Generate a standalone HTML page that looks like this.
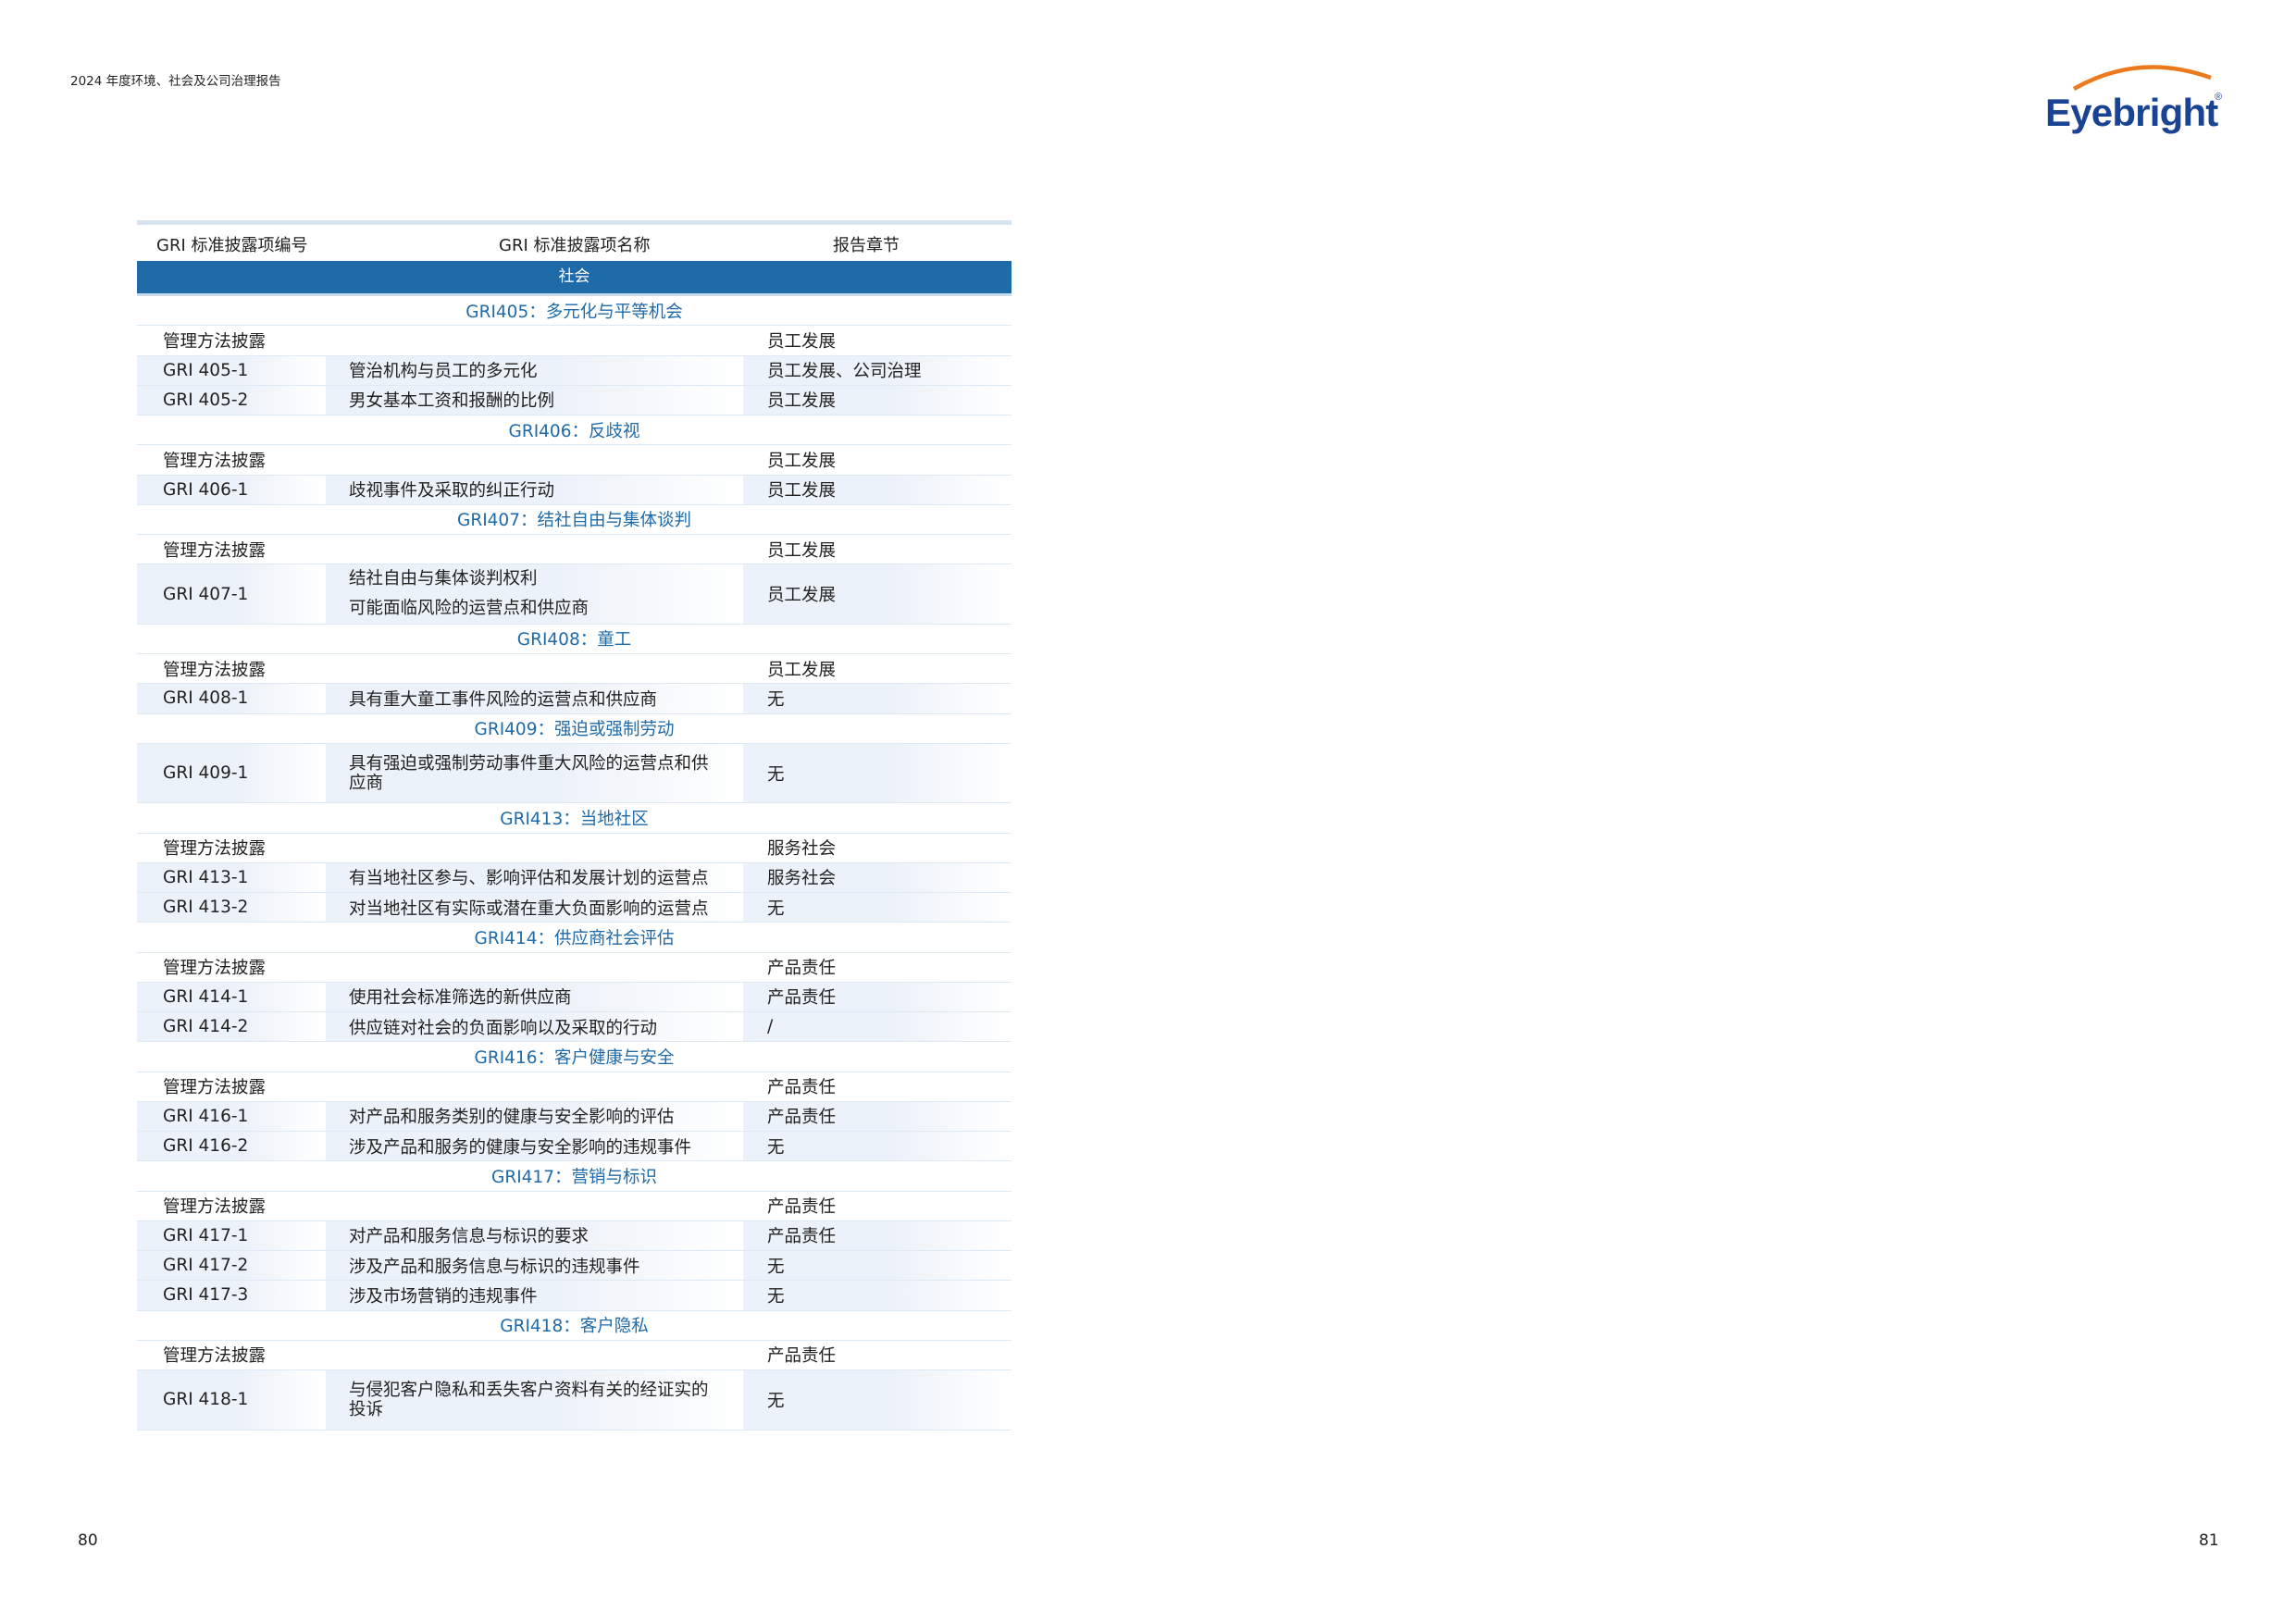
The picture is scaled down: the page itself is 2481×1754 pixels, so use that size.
<!DOCTYPE html>
<html><head><meta charset="utf-8">
<style>
html,body{margin:0;padding:0;background:#fff;}
body{width:2481px;height:1754px;position:relative;overflow:hidden;font-family:"DejaVu Sans","Noto Sans CJK SC",sans-serif;color:#222;}
.hdr{position:absolute;left:76px;top:76px;font-size:13.5px;color:#222;}
.pn{position:absolute;top:1655px;font-size:17px;color:#222;}
.tbl{position:absolute;left:148px;top:238px;width:945px;}
.topline{height:5px;background:#d8e5f1;}
.head{height:39px;position:relative;font-size:18px;}
.head span{position:absolute;top:8px;}
.band{height:35px;background:#1f6aa8;color:#fff;text-align:center;line-height:35px;font-size:17px;border-bottom:3px solid #c9dcee;box-sizing:content-box;}
.r{height:32.25px;box-sizing:border-box;border-bottom:1px solid #dde9f4;display:flex;font-size:18.5px;}
.r.d{height:64.5px;}
.sec{justify-content:center;align-items:center;color:#1f6aa8;}
.c{display:flex;align-items:center;box-sizing:border-box;}
.c1{width:204px;padding-left:28px;}
.c2{width:451px;padding-left:25px;}
.c3{width:290px;padding-left:26px;}
.g .c{background:linear-gradient(to right,#ecf2f9 0%,#ecf2f9 55%,#ffffff 100%);}
.c2 .w{line-height:21px;}
.c2 .t2{line-height:32px;}
</style></head><body>
<div class="hdr">2024 年度环境、社会及公司治理报告</div>
<svg style="position:absolute;left:2203px;top:62px" width="230" height="90" viewBox="0 0 230 90">
<path d="M38 34 Q108 -6 186 22" stroke="#ec7a1c" stroke-width="4.5" fill="none"/>
<text x="7" y="74" font-family="Liberation Sans, sans-serif" font-weight="bold" font-size="42" fill="#1b4393" letter-spacing="-0.8">Eyebright</text>
<text x="190" y="46" font-family="Liberation Sans, sans-serif" font-size="11" fill="#1b4393">®</text>
</svg>
<div class="tbl">
<div class="topline"></div>
<div class="head"><span style="left:21px">GRI 标准披露项编号</span><span style="left:391px">GRI 标准披露项名称</span><span style="left:752px">报告章节</span></div>
<div class="band">社会</div>

<div class="r sec">GRI405：多元化与平等机会</div>
<div class="r"><div class="c c1">管理方法披露</div><div class="c c2"></div><div class="c c3">员工发展</div></div>
<div class="r g"><div class="c c1">GRI 405-1</div><div class="c c2">管治机构与员工的多元化</div><div class="c c3">员工发展、公司治理</div></div>
<div class="r g"><div class="c c1">GRI 405-2</div><div class="c c2">男女基本工资和报酬的比例</div><div class="c c3">员工发展</div></div>

<div class="r sec">GRI406：反歧视</div>
<div class="r"><div class="c c1">管理方法披露</div><div class="c c2"></div><div class="c c3">员工发展</div></div>
<div class="r g"><div class="c c1">GRI 406-1</div><div class="c c2">歧视事件及采取的纠正行动</div><div class="c c3">员工发展</div></div>

<div class="r sec">GRI407：结社自由与集体谈判</div>
<div class="r"><div class="c c1">管理方法披露</div><div class="c c2"></div><div class="c c3">员工发展</div></div>
<div class="r d g"><div class="c c1">GRI 407-1</div><div class="c c2"><div class="t2">结社自由与集体谈判权利<br>可能面临风险的运营点和供应商</div></div><div class="c c3">员工发展</div></div>

<div class="r sec">GRI408：童工</div>
<div class="r"><div class="c c1">管理方法披露</div><div class="c c2"></div><div class="c c3">员工发展</div></div>
<div class="r g"><div class="c c1">GRI 408-1</div><div class="c c2">具有重大童工事件风险的运营点和供应商</div><div class="c c3">无</div></div>

<div class="r sec">GRI409：强迫或强制劳动</div>
<div class="r d g"><div class="c c1">GRI 409-1</div><div class="c c2"><div class="w">具有强迫或强制劳动事件重大风险的运营点和供<br>应商</div></div><div class="c c3">无</div></div>

<div class="r sec">GRI413：当地社区</div>
<div class="r"><div class="c c1">管理方法披露</div><div class="c c2"></div><div class="c c3">服务社会</div></div>
<div class="r g"><div class="c c1">GRI 413-1</div><div class="c c2">有当地社区参与、影响评估和发展计划的运营点</div><div class="c c3">服务社会</div></div>
<div class="r g"><div class="c c1">GRI 413-2</div><div class="c c2">对当地社区有实际或潜在重大负面影响的运营点</div><div class="c c3">无</div></div>

<div class="r sec">GRI414：供应商社会评估</div>
<div class="r"><div class="c c1">管理方法披露</div><div class="c c2"></div><div class="c c3">产品责任</div></div>
<div class="r g"><div class="c c1">GRI 414-1</div><div class="c c2">使用社会标准筛选的新供应商</div><div class="c c3">产品责任</div></div>
<div class="r g"><div class="c c1">GRI 414-2</div><div class="c c2">供应链对社会的负面影响以及采取的行动</div><div class="c c3">/</div></div>

<div class="r sec">GRI416：客户健康与安全</div>
<div class="r"><div class="c c1">管理方法披露</div><div class="c c2"></div><div class="c c3">产品责任</div></div>
<div class="r g"><div class="c c1">GRI 416-1</div><div class="c c2">对产品和服务类别的健康与安全影响的评估</div><div class="c c3">产品责任</div></div>
<div class="r g"><div class="c c1">GRI 416-2</div><div class="c c2">涉及产品和服务的健康与安全影响的违规事件</div><div class="c c3">无</div></div>

<div class="r sec">GRI417：营销与标识</div>
<div class="r"><div class="c c1">管理方法披露</div><div class="c c2"></div><div class="c c3">产品责任</div></div>
<div class="r g"><div class="c c1">GRI 417-1</div><div class="c c2">对产品和服务信息与标识的要求</div><div class="c c3">产品责任</div></div>
<div class="r g"><div class="c c1">GRI 417-2</div><div class="c c2">涉及产品和服务信息与标识的违规事件</div><div class="c c3">无</div></div>
<div class="r g"><div class="c c1">GRI 417-3</div><div class="c c2">涉及市场营销的违规事件</div><div class="c c3">无</div></div>

<div class="r sec">GRI418：客户隐私</div>
<div class="r"><div class="c c1">管理方法披露</div><div class="c c2"></div><div class="c c3">产品责任</div></div>
<div class="r d g"><div class="c c1">GRI 418-1</div><div class="c c2"><div class="w">与侵犯客户隐私和丢失客户资料有关的经证实的<br>投诉</div></div><div class="c c3">无</div></div>
</div>
<div class="pn" style="left:84px">80</div>
<div class="pn" style="left:2376px">81</div>
</body></html>
